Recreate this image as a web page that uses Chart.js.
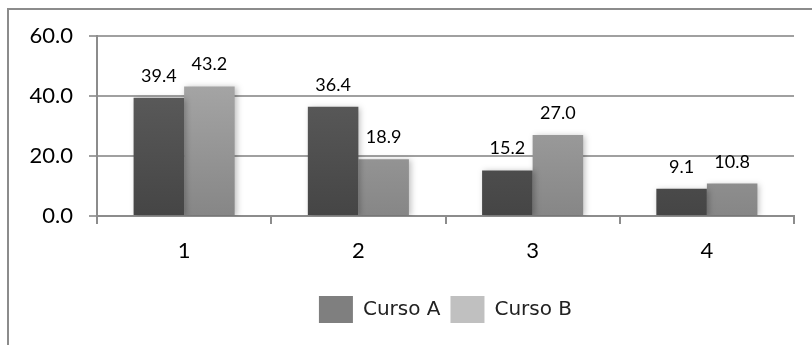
<!DOCTYPE html>
<html>
<head>
<meta charset="utf-8">
<script src="https://cdn.jsdelivr.net/npm/chart.js@4"></script>
<style>
  html, body { margin: 0; padding: 0; background: #fff; }
  #wrap { position: relative; width: 812px; height: 345px; overflow: hidden; }
  #frame { position: absolute; left: 7px; top: 8px; width: 900px; height: 400px;
           border-left: 2px solid #8c8c8c; border-top: 2px solid #8c8c8c; }
  #bar-chart { position: absolute; left: 0; top: 0; }
</style>
</head>
<body>
<div id="wrap">
  <div id="frame"></div>
  <canvas id="bar-chart" width="812" height="345"></canvas>
</div>
<script>
var categories = ["1", "2", "3", "4"];
var cursoA = [39.4, 36.4, 15.2, 9.1];
var cursoB = [43.2, 18.9, 27.0, 10.8];
var yTicks = [0, 20, 40, 60];

var fontFamily = "Lato, 'Open Sans', sans-serif";

// vertical gradient for a bar series, built once the chart area is known
function barGradient(top, bottom) {
  return function(context) {
    var area = context.chart.chartArea;
    if (!area) return bottom;
    var g = context.chart.ctx.createLinearGradient(0, area.top, 0, area.bottom);
    g.addColorStop(0, top);
    g.addColorStop(1, bottom);
    return g;
  };
}

var legendColors = ["#7f7f7f", "#c0c0c0"];

// values printed above each bar
var valueLabels = {
  id: "valueLabels",
  afterDatasetsDraw: function(chart) {
    var ctx = chart.ctx;
    ctx.save();
    ctx.font = "18px " + fontFamily;
    ctx.fillStyle = "#000";
    ctx.textAlign = "center";
    ctx.textBaseline = "alphabetic";
    chart.data.datasets.forEach(function(ds, i) {
      chart.getDatasetMeta(i).data.forEach(function(bar, j) {
        ctx.fillText(ds.data[j].toFixed(1), bar.x, bar.y - 16);
      });
    });
    ctx.restore();
  }
};

// soft shadow behind the bars
var barShadow = {
  id: "barShadow",
  beforeDatasetsDraw: function(chart) {
    var ctx = chart.ctx;
    ctx.save();
    ctx.shadowColor = "rgba(0,0,0,0.25)";
    ctx.shadowBlur = 6;
    ctx.shadowOffsetX = 2;
    ctx.shadowOffsetY = 1;
  },
  afterDatasetsDraw: function(chart) {
    chart.ctx.restore();
  }
};

var ctx = document.getElementById("bar-chart").getContext("2d");

new Chart(ctx, {
  type: "bar",
  data: {
    labels: categories,
    datasets: [
      {
        label: "Curso A",
        data: cursoA,
        backgroundColor: barGradient("#636363", "#454545"),
        borderWidth: 0
      },
      {
        label: "Curso B",
        data: cursoB,
        backgroundColor: barGradient("#b0b0b0", "#868686"),
        borderWidth: 0
      }
    ]
  },
  options: {
    responsive: false,
    animation: false,
    layout: { padding: { left: 0, right: 18, top: 36, bottom: 12 } },
    datasets: {
      bar: { categoryPercentage: 0.58, barPercentage: 1.0 }
    },
    scales: {
      x: {
        grid: {
          offset: true,
          drawOnChartArea: false,
          color: "#8c8c8c",
          lineWidth: 2,
          tickLength: 8
        },
        border: { color: "#8c8c8c", width: 2 },
        ticks: {
          color: "#000",
          padding: 14,
          font: { family: fontFamily, size: 22 }
        },
        afterFit: function(scale) { scale.height = 70; }
      },
      y: {
        min: 0,
        max: 60,
        afterBuildTicks: function(scale) {
          scale.ticks = yTicks.map(function(v) { return { value: v }; });
        },
        grid: {
          color: "#a0a0a0",
          lineWidth: 2,
          tickLength: 8
        },
        border: { color: "#8c8c8c", width: 2 },
        ticks: {
          color: "#000",
          padding: 16,
          font: { family: fontFamily, size: 22 },
          callback: function(v) { return Number(v).toFixed(1); }
        },
        afterFit: function(scale) { scale.width = 97; }
      }
    },
    plugins: {
      legend: {
        position: "bottom",
        fullSize: false,
        labels: {
          boxWidth: 34,
          boxHeight: 27,
          padding: 10,
          color: "#222",
          font: { family: "'DejaVu Sans', sans-serif", size: 20 },
          generateLabels: function(chart) {
            var items = Chart.defaults.plugins.legend.labels.generateLabels(chart);
            items.forEach(function(item, i) {
              item.fillStyle = legendColors[i];
              item.strokeStyle = legendColors[i];
              item.lineWidth = 0;
            });
            return items;
          }
        }
      },
      tooltip: { enabled: false }
    }
  },
  plugins: [barShadow, valueLabels]
});
</script>
</body>
</html>
